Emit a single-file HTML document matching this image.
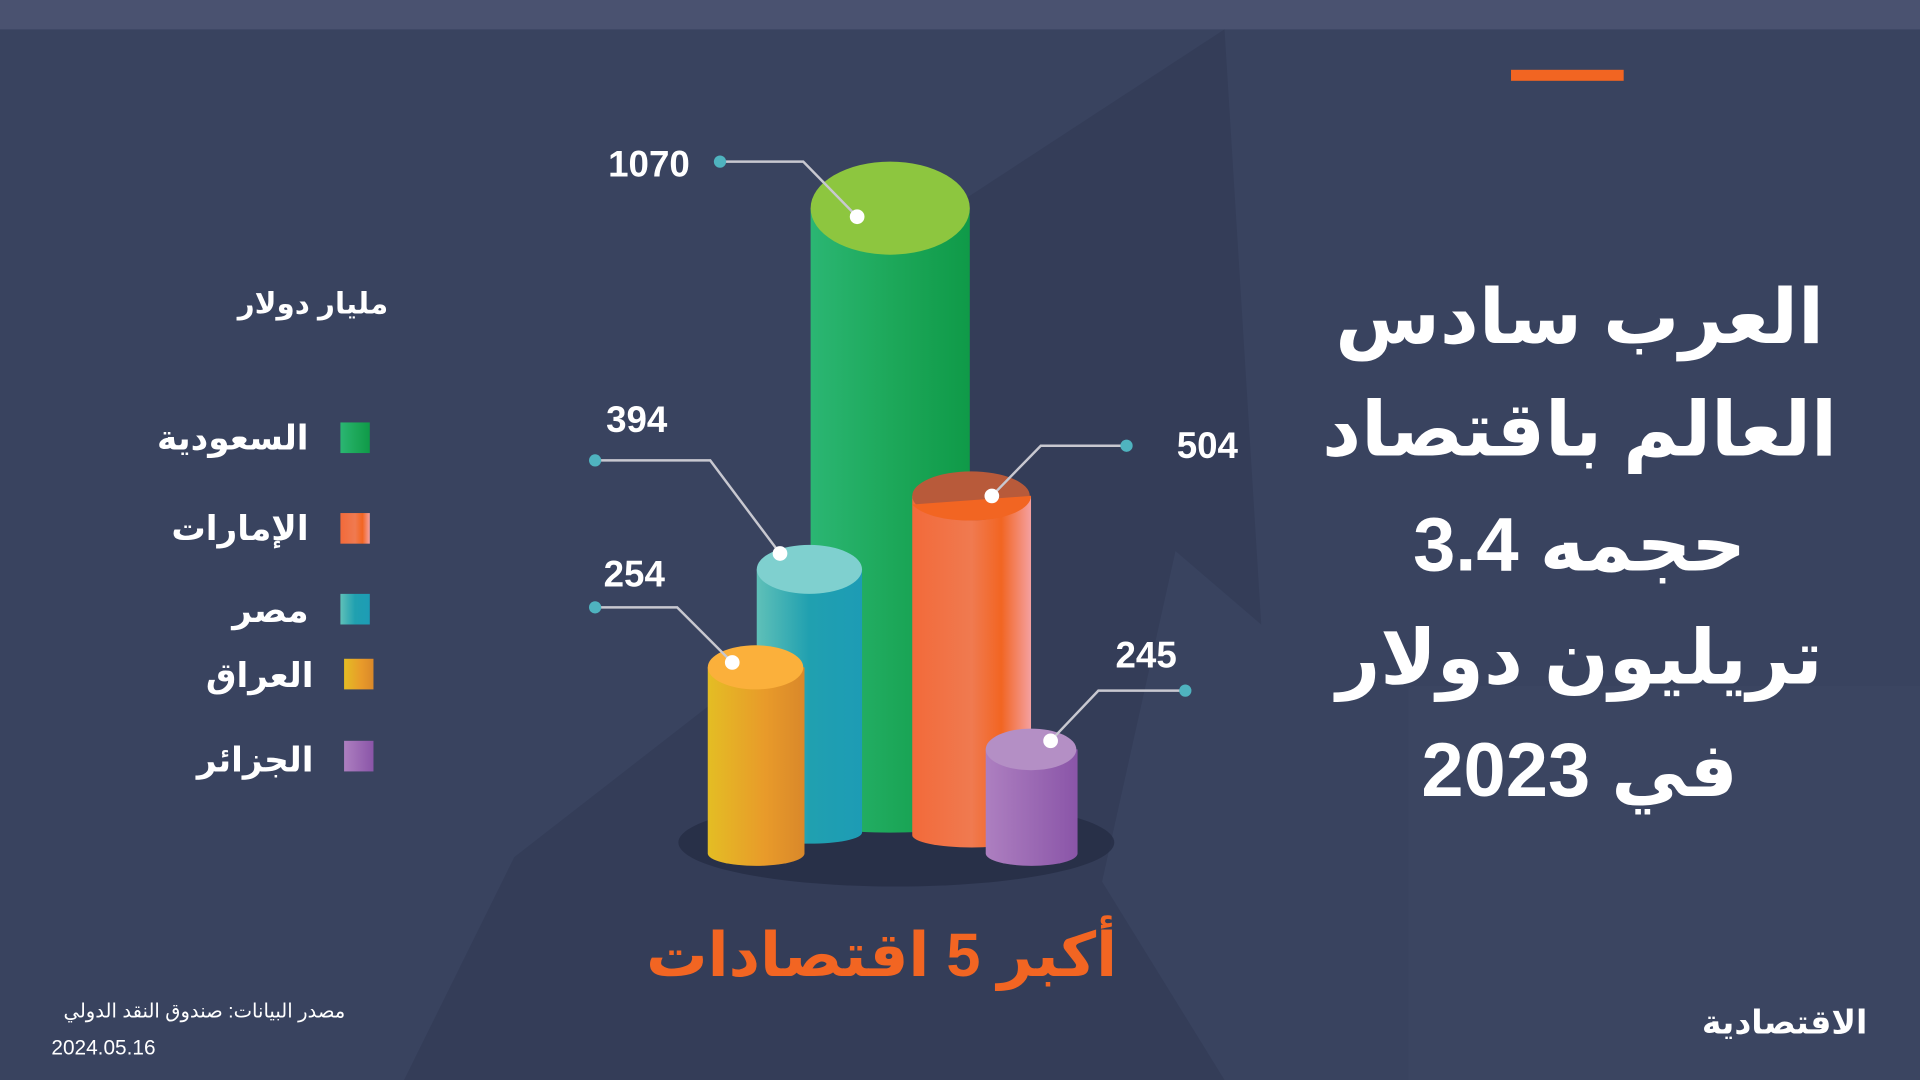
<!DOCTYPE html>
<html><head><meta charset="utf-8"><style>
html,body{margin:0;padding:0;background:#39435f;overflow:hidden}
svg{display:block}
text{font-family:"Liberation Sans","Noto Sans CJK SC","DejaVu Sans",sans-serif}
</style></head><body>
<svg width="1920" height="1080" viewBox="0 0 1568 882" preserveAspectRatio="none" xmlns="http://www.w3.org/2000/svg">
<defs>
<linearGradient id="gG" x1="0" x2="1"><stop offset="0" stop-color="#2bb673"/><stop offset="0.5" stop-color="#1da85a"/><stop offset="1" stop-color="#0f9a48"/></linearGradient>
<linearGradient id="gO" x1="0" x2="1"><stop offset="0" stop-color="#f26a3a"/><stop offset="0.5" stop-color="#f07a50"/><stop offset="0.75" stop-color="#f26522"/><stop offset="1" stop-color="#f4a0a0"/></linearGradient>
<linearGradient id="gT" x1="0" x2="1"><stop offset="0" stop-color="#5fc0b8"/><stop offset="0.5" stop-color="#20a0b0"/><stop offset="1" stop-color="#1d9cb5"/></linearGradient>
<linearGradient id="gY" x1="0" x2="1"><stop offset="0" stop-color="#e4bd24"/><stop offset="0.6" stop-color="#e89a2a"/><stop offset="1" stop-color="#d9882a"/></linearGradient>
<linearGradient id="gP" x1="0" x2="1"><stop offset="0" stop-color="#ad7fc0"/><stop offset="1" stop-color="#8a55a8"/></linearGradient>
</defs>
<rect width="1568" height="882" fill="#39435f"/>
<rect width="1568" height="24" fill="#4a5270"/>
<polygon points="330,882 420,700 600,560 720,380 760,240 700,220 1000,24 1030,510 960,450 900,720 1000,882" fill="#323b56" opacity="0.7"/>
<rect x="1150" y="560" width="418" height="322" fill="#3d4764" opacity="0.5"/>
<rect x="1234" y="57" width="92" height="9" fill="#f26522"/>
<g fill="#fff" font-weight="bold" font-size="62" text-anchor="middle">
<text x="1290" y="280">العرب سادس</text>
<text x="1290" y="372">العالم باقتصاد</text>
<text x="1290" y="466">حجمه 3.4</text>
<text x="1290" y="558">تريليون دولار</text>
<text x="1290" y="650">في 2023</text>
</g>
<g fill="#fff" font-weight="bold" text-anchor="end">
<text x="317" y="256" font-size="24">مليار دولار</text>
<text x="252" y="367" font-size="28">السعودية</text>
<text x="252" y="441" font-size="28">الإمارات</text>
<text x="252" y="508" font-size="28">مصر</text>
<text x="256" y="561" font-size="28">العراق</text>
<text x="256" y="630" font-size="28">الجزائر</text>
</g>
<rect x="278" y="345" width="24" height="25" fill="url(#gG)"/>
<rect x="278" y="419" width="24" height="25" fill="url(#gO)"/>
<rect x="278" y="485" width="24" height="25" fill="url(#gT)"/>
<rect x="281" y="538" width="24" height="25" fill="url(#gY)"/>
<rect x="281" y="605" width="24" height="25" fill="url(#gP)"/>
<ellipse cx="732" cy="688" rx="178" ry="36" fill="#262d45" opacity="0.8"/>
<path d="M662,170 V670 A65,10 0 0 0 792,670 V170 Z" fill="url(#gG)"/>
<ellipse cx="727" cy="170" rx="65" ry="38" fill="#8dc63f"/>
<path d="M618,465 V680 A43,9 0 0 0 704,680 V465 Z" fill="url(#gT)"/>
<ellipse cx="661" cy="465" rx="43" ry="20" fill="#7fd0cf"/>
<path d="M745,405 V682 A48,10 0 0 0 842,682 V405 Z" fill="url(#gO)"/>
<ellipse cx="793" cy="405" rx="48" ry="20" fill="#b85a3a"/>
<path d="M745,412 L842,405 A48,20 0 0 1 793,425 A48,20 0 0 1 745,412 Z" fill="#f26522"/>
<path d="M578,545 V697 A39,10 0 0 0 657,697 V545 Z" fill="url(#gY)"/>
<ellipse cx="617" cy="545" rx="39" ry="18" fill="#fbb03b"/>
<path d="M805,612 V697 A37,10 0 0 0 880,697 V612 Z" fill="url(#gP)"/>
<ellipse cx="842" cy="612" rx="37" ry="17" fill="#b48fc5"/>
<g stroke="#c8c8d0" stroke-width="2" fill="none">
<polyline points="588,132 656,132 700,177"/>
<polyline points="486,376 580,376 637,452"/>
<polyline points="486,496 553,496 598,541"/>
<polyline points="920,364 850,364 810,405"/>
<polyline points="968,564 897,564 858,605"/>
</g>
<g fill="#4fb3bf"><circle cx="588" cy="132" r="5"/><circle cx="486" cy="376" r="5"/><circle cx="486" cy="496" r="5"/><circle cx="920" cy="364" r="5"/><circle cx="968" cy="564" r="5"/></g>
<g fill="#fff"><circle cx="700" cy="177" r="6"/><circle cx="637" cy="452" r="6"/><circle cx="598" cy="541" r="6"/><circle cx="810" cy="405" r="6"/><circle cx="858" cy="605" r="6"/></g>
<g fill="#fff" font-weight="bold" font-size="30" text-anchor="middle">
<text x="530" y="144">1070</text>
<text x="520" y="353">394</text>
<text x="518" y="479">254</text>
<text x="986" y="374">504</text>
<text x="936" y="545">245</text>
</g>
<text x="720" y="797" fill="#f26522" font-weight="bold" font-size="50" text-anchor="middle">أكبر 5 اقتصادات</text>
<text x="282" y="831" fill="#fff" font-size="16" text-anchor="end">مصدر البيانات: صندوق النقد الدولي</text>
<text x="42" y="861" fill="#fff" font-size="17">2024.05.16</text>
<text x="1525" y="844" fill="#fff" font-weight="bold" font-size="27" text-anchor="end">الاقتصادية</text>
</svg>
</body></html>
